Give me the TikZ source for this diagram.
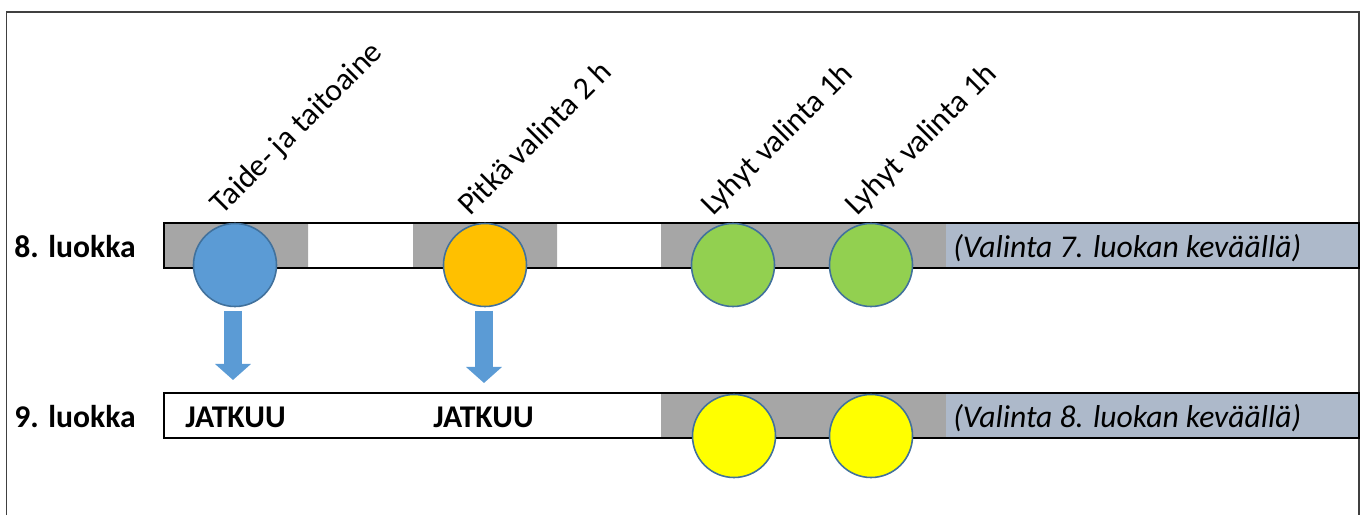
\documentclass[tikz,border=0pt]{standalone}
\usepackage{fontspec}
\setmainfont{Carlito}
\usetikzlibrary{arrows.meta}
\definecolor{sininen}{HTML}{5B9BD5}
\definecolor{reuna}{HTML}{41719C}
\definecolor{oranssi}{HTML}{FFC000}
\definecolor{vihrea}{HTML}{92D050}
\definecolor{keltainen}{HTML}{FFFF00}
\definecolor{harmaa}{HTML}{A6A6A6}
\definecolor{siniharmaa}{HTML}{ADB9CA}

\begin{document}
\begin{tikzpicture}[font=\fontsize{18}{21}\selectfont,
	pallo/.style={circle,minimum size=1.66cm,inner sep=0pt,draw=reuna,line width=0.9pt},
	nuoli/.style={draw=sininen,line width=0.36cm,shorten <=2pt,-{Triangle[width=0.7cm,length=0.32cm]}},
	aine/.style={rotate=45,anchor=base west,inner sep=0pt},
	teksti/.style={anchor=base west,inner sep=0pt}]
	\useasboundingbox (0,0) rectangle (27.3,10.3);
	%kehys
	\draw[line width=1pt,black!75] (0.13,0) |- (27.18,10.06) -- (27.18,0);
	%8. luokka
	\fill[harmaa] (3.28,4.94) rectangle (6.16,5.84) (8.26,4.94) rectangle (11.14,5.84) (13.22,4.94) rectangle (18.92,5.84);
	\fill[siniharmaa] (18.92,4.94) rectangle (27.18,5.84);
	\draw[line width=1.2pt] (3.28,4.94) rectangle (27.18,5.84);
	%9. luokka
	\fill[harmaa] (13.22,1.54) rectangle (18.92,2.44);
	\fill[siniharmaa] (18.92,1.54) rectangle (27.18,2.44);
	\draw[line width=1.2pt] (3.28,1.54) rectangle (27.18,2.44);
	%pallot
	\node[pallo,fill=sininen] (b-1) at (4.70,5.00) {};
	\node[pallo,fill=oranssi] (b-2) at (9.70,5.00) {};
	\node[pallo,fill=vihrea] (b-3) at (14.66,5.00) {};
	\node[pallo,fill=vihrea] (b-4) at (17.42,5.00) {};
	\node[pallo,fill=keltainen] (y-1) at (14.68,1.58) {};
	\node[pallo,fill=keltainen] (y-2) at (17.42,1.58) {};
	%nuolet
	\coordinate (t-1) at (4.66,2.70);
	\coordinate (t-2) at (9.68,2.64);
	\draw[nuoli] (b-1.south -| t-1) -- (t-1);
	\draw[nuoli] (b-2.south -| t-2) -- (t-2);
	%tekstit
	\node[aine] (a-1) at (4.44,5.98) {Taide- ja taitoaine};
	\node[aine] (a-2) at (9.40,5.96) {Pitkä valinta 2 h};
	\node[aine] (a-3) at (14.26,5.96) {Lyhyt valinta 1h};
	\node[aine] (a-4) at (17.14,5.96) {Lyhyt valinta 1h};
	\node[teksti,font=\fontsize{18}{21}\selectfont\bfseries] (l-8) at (0.28,5.14) {8. luokka};
	\node[teksti,font=\fontsize{18}{21}\selectfont\bfseries] (l-9) at (0.28,1.76) {9. luokka};
	\node[teksti,font=\fontsize{18}{21}\selectfont\bfseries] (j-1) at (3.70,1.76) {JATKUU};
	\node[teksti,font=\fontsize{18}{21}\selectfont\bfseries] (j-2) at (8.66,1.76) {JATKUU};
	\node[teksti,font=\fontsize{18}{21}\selectfont\itshape] (v-8) at (19.06,5.14) {(Valinta 7. luokan keväällä)};
	\node[teksti,font=\fontsize{18}{21}\selectfont\itshape] (v-9) at (19.06,1.76) {(Valinta 8. luokan keväällä)};
\end{tikzpicture}
\end{document}
